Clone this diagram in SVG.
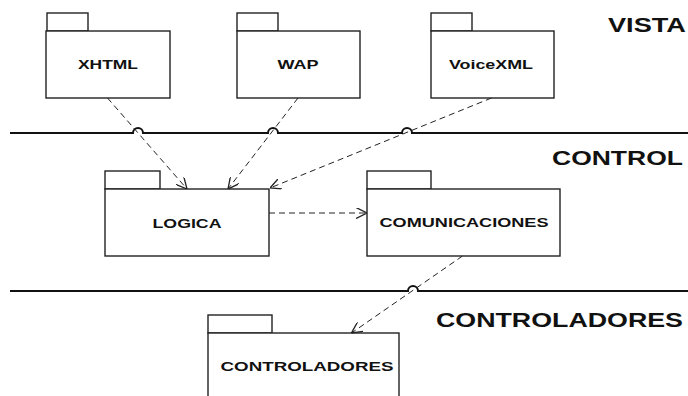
<svg xmlns="http://www.w3.org/2000/svg" width="688" height="396" viewBox="0 0 688 396">
<defs>
<style>
.pkg{fill:#fff;stroke:#222;stroke-width:1.4}
.lbl{font-family:"Liberation Sans",Arial,sans-serif;font-weight:bold;font-size:13px;fill:#111;text-anchor:middle}
.sec{font-family:"Liberation Sans",Arial,sans-serif;font-weight:bold;font-size:20px;fill:#111}
.sep{fill:none;stroke:#111;stroke-width:2}
.dep{fill:none;stroke:#222;stroke-width:1;stroke-dasharray:6 4;marker-end:url(#open)}
</style>
<marker id="open" viewBox="0 0 10 10" refX="10" refY="5" markerWidth="11" markerHeight="11" markerUnits="userSpaceOnUse" orient="auto">
<path d="M0,0 L10,5 L0,10" fill="none" stroke="#222" stroke-width="1.2" stroke-dasharray="none"/>
</marker>
</defs>
<rect width="688" height="396" fill="#fff"/>

<g id="separators">
<path class="sep" d="M10 133 H133 A5 5 0 0 1 143 133 H268 A5 5 0 0 1 278 133 H402 A5 5 0 0 1 412 133 H688"/>
<path class="sep" d="M10 291 H408 A5 5 0 0 1 418 291 H688"/>
</g>

<g id="sections">
<text class="sec" x="608" y="32" textLength="78" lengthAdjust="spacingAndGlyphs">VISTA</text>
<text class="sec" x="552" y="165" textLength="131" lengthAdjust="spacingAndGlyphs">CONTROL</text>
<text class="sec" x="436" y="327" textLength="247" lengthAdjust="spacingAndGlyphs">CONTROLADORES</text>
</g>

<g id="xhtml">
<rect class="pkg" x="47" y="13" width="41" height="18"/>
<rect class="pkg" x="46" y="31" width="124" height="67"/>
<text class="lbl" x="108" y="69" textLength="60" lengthAdjust="spacingAndGlyphs">XHTML</text>
</g>
<g id="wap">
<rect class="pkg" x="237" y="13" width="41" height="18"/>
<rect class="pkg" x="237" y="31" width="123" height="67"/>
<text class="lbl" x="298" y="69" textLength="41" lengthAdjust="spacingAndGlyphs">WAP</text>
</g>
<g id="voicexml">
<rect class="pkg" x="431" y="13" width="41" height="18"/>
<rect class="pkg" x="431" y="31" width="123" height="67"/>
<text class="lbl" x="491" y="69" textLength="84" lengthAdjust="spacingAndGlyphs">VoiceXML</text>
</g>
<g id="logica">
<rect class="pkg" x="105" y="171" width="55" height="18"/>
<rect class="pkg" x="105" y="189" width="164" height="67"/>
<text class="lbl" x="187" y="228" textLength="69" lengthAdjust="spacingAndGlyphs">LOGICA</text>
</g>
<g id="comunicaciones">
<rect class="pkg" x="367" y="171" width="64" height="18"/>
<rect class="pkg" x="367" y="189" width="193" height="67"/>
<text class="lbl" x="464" y="227" textLength="169" lengthAdjust="spacingAndGlyphs">COMUNICACIONES</text>
</g>
<g id="controladores">
<rect class="pkg" x="208" y="315" width="64" height="18"/>
<rect class="pkg" x="208" y="333" width="191" height="80"/>
<text class="lbl" x="307" y="371" textLength="173" lengthAdjust="spacingAndGlyphs">CONTROLADORES</text>
</g>

<g id="connectors">
<path class="dep" d="M107.5 98 L187 189"/>
<path class="dep" d="M298 98 L228 189"/>
<path class="dep" d="M491.5 98 L270 188"/>
<path class="dep" d="M269 213 L367 213"/>
<path class="dep" d="M462.5 256 L351.5 333"/>
</g>
</svg>
